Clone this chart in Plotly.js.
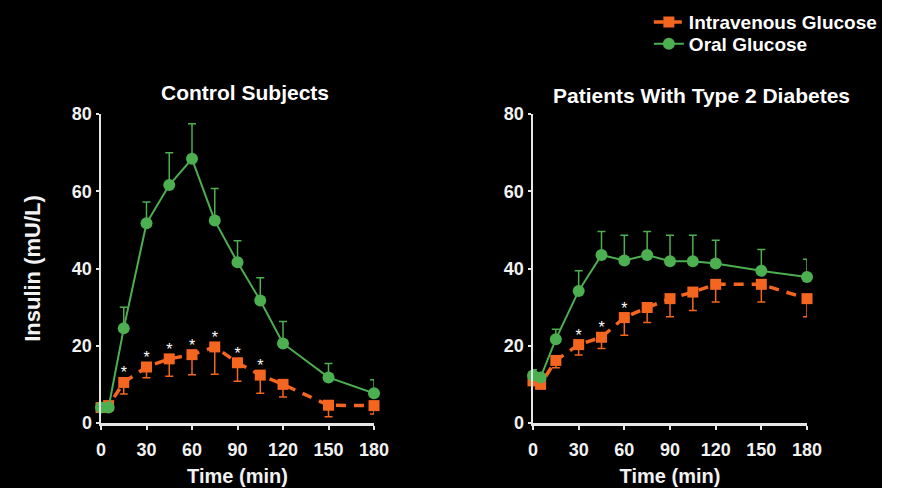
<!DOCTYPE html>
<html>
<head>
<meta charset="utf-8">
<script src="https://cdn.plot.ly/plotly-3.0.1.min.js"></script>
<style>
html, body { margin: 0; padding: 0; background: #ffffff; }
#chart { width: 882px; height: 488px; }
</style>
</head>
<body>
<div id="chart"></div>
<script>
// ---- Data ----
const time = [0, 5, 15, 30, 45, 60, 75, 90, 105, 120, 150, 180];
const xTicks = [0, 30, 60, 90, 120, 150, 180];
const yTicks = [0, 20, 40, 60, 80];

// Control subjects
const ctrlIV      = [4, 4.5, 10.5, 14.5, 16.6, 17.7, 19.7, 15.6, 12.4, 10.0, 4.6, 4.5];
const ctrlIVErr   = [0, 0, 3.0, 2.8, 4.5, 5.2, 7.1, 4.8, 4.7, 3.3, 3.0, 2.2];
const ctrlOral    = [4, 4, 24.5, 51.7, 61.6, 68.4, 52.4, 41.6, 31.7, 20.6, 11.8, 7.7];
const ctrlOralErr = [0, 0, 5.5, 5.5, 8.4, 9.1, 8.3, 5.6, 5.9, 5.7, 3.6, 3.5];
const ctrlSig     = [15, 30, 45, 60, 75, 90, 105];

// Patients with type 2 diabetes
const t2dIV       = [10.9, 10.0, 16.2, 20.3, 22.2, 27.3, 29.9, 32.2, 33.9, 35.9, 35.9, 32.2];
const t2dIVErr    = [0, 0, 1.9, 2.7, 2.9, 4.6, 3.9, 4.7, 4.8, 4.6, 4.6, 4.7];
const t2dOral     = [12.3, 11.8, 21.7, 34.2, 43.5, 42.1, 43.5, 41.9, 41.9, 41.3, 39.4, 37.8];
const t2dOralErr  = [1.5, 0, 2.6, 5.2, 6.1, 6.5, 6.1, 6.7, 6.7, 6.0, 5.5, 4.6];
const t2dSig      = [30, 45, 60];

const panelTitles = ["Control Subjects", "Patients With Type 2 Diabetes"];
const seriesNames = ["Intravenous Glucose", "Oral Glucose"];

// ---- Styling ----
const ORANGE = "#f4651f";
const GREEN = "#4caf50";
const FONT = "Liberation Sans, Arial, sans-serif";
const zeros = time.map(() => 0);

function ivTrace(y, err, xa, ya, showLegend) {
  return {
    x: time, y: y, xaxis: xa, yaxis: ya, type: "scatter", mode: "lines+markers",
    name: seriesNames[0], showlegend: showLegend, legend: "legend",
    line: { color: ORANGE, width: 3.5, dash: "10px,8px" },
    marker: { symbol: "square", size: 11, color: ORANGE },
    error_y: { type: "data", symmetric: false, array: zeros, arrayminus: err,
               color: ORANGE, thickness: 1.5, width: 4 },
    cliponaxis: false, hoverinfo: "skip"
  };
}
function oralTrace(y, err, xa, ya, showLegend) {
  return {
    x: time, y: y, xaxis: xa, yaxis: ya, type: "scatter", mode: "lines+markers",
    name: seriesNames[1], showlegend: showLegend, legend: "legend2",
    line: { color: GREEN, width: 2 },
    marker: { symbol: "circle", size: 12, color: GREEN },
    error_y: { type: "data", symmetric: false, array: err, arrayminus: zeros,
               color: GREEN, thickness: 1.5, width: 4 },
    cliponaxis: false, hoverinfo: "skip"
  };
}
function sigTrace(sig, iv, xa, ya) {
  const xs = [], ys = [];
  sig.forEach(t => { const i = time.indexOf(t); xs.push(t); ys.push(iv[i]); });
  return {
    x: xs, y: ys, xaxis: xa, yaxis: ya, type: "scatter", mode: "text",
    text: xs.map(() => "*"), textposition: "top center",
    textfont: { color: "#ffffff", size: 16, family: FONT },
    showlegend: false, cliponaxis: false, hoverinfo: "skip"
  };
}

const data = [
  ivTrace(ctrlIV, ctrlIVErr, "x", "y", true),
  oralTrace(ctrlOral, ctrlOralErr, "x", "y", true),
  sigTrace(ctrlSig, ctrlIV, "x", "y"),
  ivTrace(t2dIV, t2dIVErr, "x2", "y2", false),
  oralTrace(t2dOral, t2dOralErr, "x2", "y2", false),
  sigTrace(t2dSig, t2dIV, "x2", "y2")
];

const tickFont = { family: FONT, size: 18, color: "#f2f2f2", weight: "bold" };

function xAxis(domain, anchor) {
  return {
    domain: domain, anchor: anchor, range: [0, 180], tickvals: xTicks,
    ticktext: xTicks.map(String),
    showgrid: false, zeroline: false, showline: true, linecolor: "#e6e6e6", linewidth: 2.5,
    ticks: "outside", ticklen: 4, tickwidth: 2, tickcolor: "#e6e6e6",
    ticklabelstandoff: 5,
    tickfont: tickFont, fixedrange: true,
    title: { text: "Time (min)", font: { family: FONT, size: 20, color: "#f2f2f2", weight: "bold" }, standoff: 10 }
  };
}
function yAxis(anchor, withTitle) {
  const ax = {
    domain: [0, 1], anchor: anchor, range: [0, 80], tickvals: yTicks,
    ticktext: yTicks.map(String),
    showgrid: false, zeroline: false, showline: true, linecolor: "#e6e6e6", linewidth: 2.5,
    ticks: "outside", ticklen: 3, tickwidth: 2, tickcolor: "#e6e6e6",
    tickfont: tickFont, fixedrange: true
  };
  if (withTitle) ax.title = { text: "Insulin (mU/L)", font: { family: FONT, size: 22, color: "#f2f2f2", weight: "bold" }, standoff: 25 };
  return ax;
}

const legendFont = { family: FONT, size: 19, color: "#ffffff", weight: "bold" };

const layout = {
  width: 882, height: 488,
  paper_bgcolor: "#000000", plot_bgcolor: "#000000",
  margin: { l: 101, r: 75, t: 114, b: 65, autoexpand: false },
  font: { family: FONT, color: "#ffffff" },
  xaxis: xAxis([0, 0.3867], "y"),
  yaxis: yAxis("x", true),
  xaxis2: xAxis([0.6119, 1], "y2"),
  yaxis2: yAxis("x2", false),
  showlegend: true,
  legend: {
    x: 0.776, y: 1.359, xanchor: "left", yanchor: "top",
    bgcolor: "rgba(0,0,0,0)", font: legendFont, itemwidth: 30
  },
  legend2: {
    x: 0.776, y: 1.288, xanchor: "left", yanchor: "top",
    bgcolor: "rgba(0,0,0,0)", font: legendFont, itemwidth: 30
  },
  annotations: [
    { text: panelTitles[0], xref: "x", yref: "paper", x: 95, y: 1.0, yshift: 8,
      xanchor: "center", yanchor: "bottom", showarrow: false,
      font: { family: FONT, size: 21, color: "#ffffff", weight: "bold" } },
    { text: panelTitles[1], xref: "x2", yref: "paper", x: 111, y: 1.0, yshift: 5,
      xanchor: "center", yanchor: "bottom", showarrow: false,
      font: { family: FONT, size: 21, color: "#ffffff", weight: "bold" } }
  ]
};

Plotly.newPlot("chart", data, layout, { displayModeBar: false, staticPlot: true });
</script>
</body>
</html>
